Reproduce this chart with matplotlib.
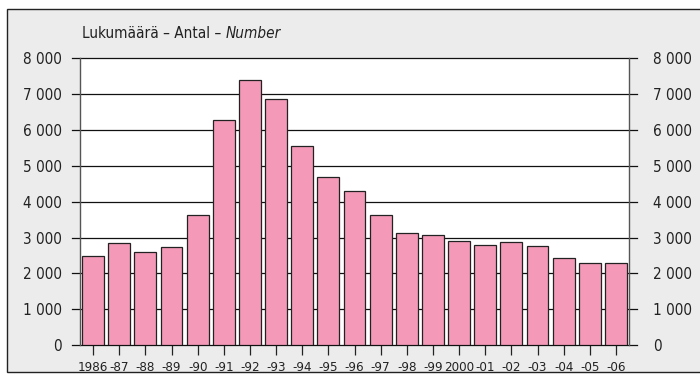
import matplotlib
matplotlib.use("Agg")
import matplotlib.pyplot as plt
import matplotlib.patches as mpatches
from matplotlib import font_manager
from matplotlib.transforms import ScaledTranslation
from matplotlib.ticker import FuncFormatter

# ── Data ─────────────────────────────────────────────────────
years = ["1986", "-87", "-88", "-89", "-90", "-91", "-92", "-93", "-94", "-95",
         "-96", "-97", "-98", "-99", "2000", "-01", "-02", "-03", "-04", "-05", "-06"]
counts = [2500, 2850, 2590, 2745, 3640, 6260, 7400, 6870, 5550, 4700,
          4300, 3620, 3140, 3080, 2910, 2800, 2890, 2770, 2430, 2280, 2280]
yticks = [0, 1000, 2000, 3000, 4000, 5000, 6000, 7000, 8000]

BAR = "#f49ab8"
BG = "#ececec"
INK = "#222222"

# ── pick a narrow face if there is one ───────────────────────
fonts = font_manager.fontManager.ttflist
names = {f.name for f in fonts}
if "Liberation Sans Narrow" in names:
    FAMILY, STRETCH = "Liberation Sans Narrow", "normal"
elif any(f.name == "DejaVu Sans" and f.stretch == "condensed" for f in fonts):
    FAMILY, STRETCH = "DejaVu Sans", "condensed"
else:
    FAMILY, STRETCH = "Liberation Sans", "normal"

plt.rcParams["font.family"] = [FAMILY, "DejaVu Sans"]
plt.rcParams["font.stretch"] = STRETCH

fig = plt.figure(figsize=(7, 3.87), dpi=100)
fig.patch.set_facecolor("white")

# outer framed panel (runs off the right edge, as in the source)
W, H = 700, 387
frame = mpatches.Rectangle((7 / W, 1 - 372 / H), 1.0, (372 - 9) / H,
                           transform=fig.transFigure, facecolor=BG,
                           edgecolor=INK, linewidth=1.0, zorder=-5)
fig.patches.append(frame)

ax = fig.add_axes([80 / W, 1 - 345.3 / H, (629 - 80) / W, (345.3 - 58) / H])
ax.set_facecolor("white")

x = range(len(years))
ax.bar(x, counts, width=0.84, color=BAR, edgecolor=INK, linewidth=0.9, zorder=3)

ax.set_xlim(-0.5, len(years) - 0.5)
ax.set_ylim(0, 8000)

# gridlines that poke out past both sides
for v in yticks:
    ax.plot([-0.8, len(years) - 0.2], [v, v], color="#111111", linewidth=0.9,
            zorder=2, clip_on=False)

ax.set_yticks(yticks)
fmt = FuncFormatter(lambda v, _: f"{int(v):,}".replace(",", " "))
ax.yaxis.set_major_formatter(fmt)
ax.tick_params(axis="y", length=0, labelsize=11, pad=13, colors=INK,
               labelright=True, right=False)
# right-hand labels sit a little further out than the left ones
shift = ScaledTranslation(6 / 100, 0, fig.dpi_scale_trans)
for tick in ax.yaxis.get_major_ticks():
    tick.label2.set_transform(tick.label2.get_transform() + shift)

ax.set_xticks(list(x))
ax.set_xticklabels(years)
ax.tick_params(axis="x", length=7, width=0.9, labelsize=9.5, pad=4, colors=INK)

for side in ("top", "bottom"):
    ax.spines[side].set_visible(False)
for side in ("left", "right"):
    ax.spines[side].set_color("#555555")
    ax.spines[side].set_linewidth(1.0)

# title with italic English part
t1 = fig.text(82 / W, 1 - 41 / H, "Lukumäärä – Antal – ", fontsize=11,
              va="bottom", ha="left", color=INK)
ax.annotate("Number", xy=(1, 0), xycoords=t1, fontsize=11, style="italic",
            va="bottom", ha="left", color=INK, annotation_clip=False)

fig.savefig("out.png", dpi=100, facecolor=fig.get_facecolor())
